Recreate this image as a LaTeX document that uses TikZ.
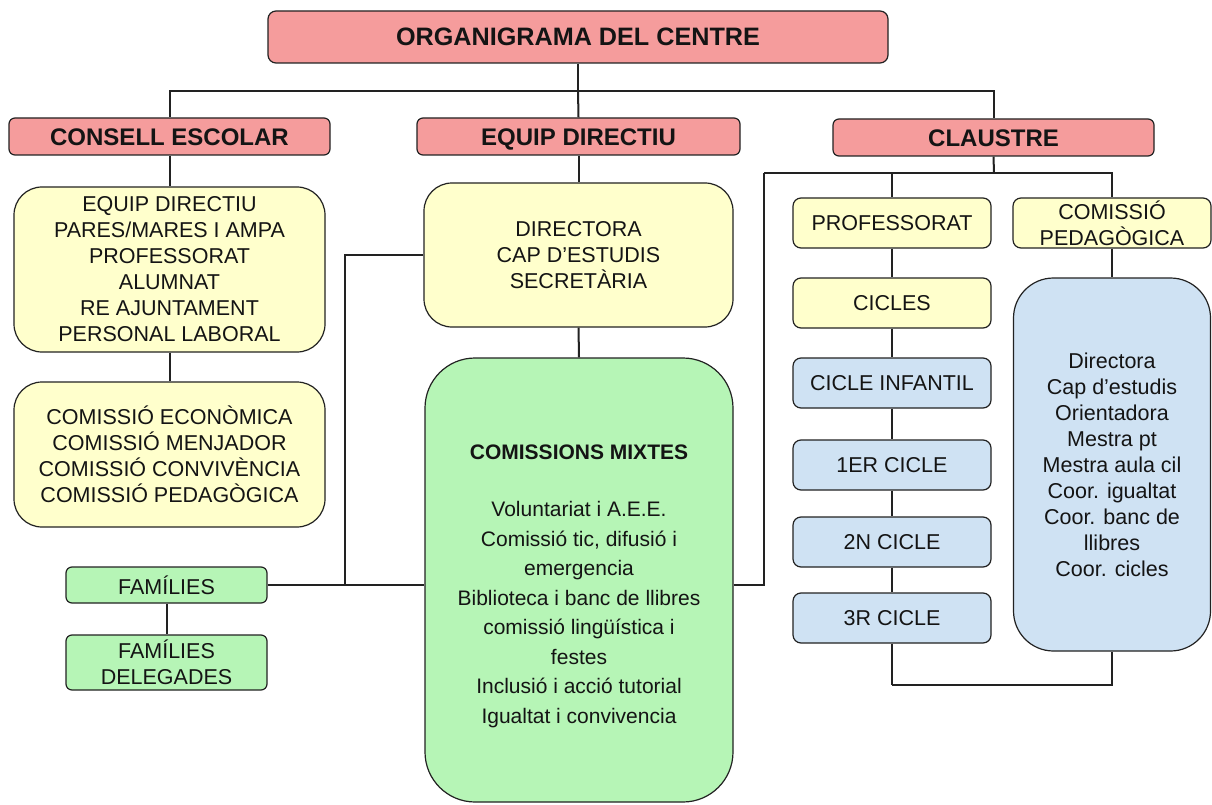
\documentclass[tikz,border=0pt]{standalone}
\usepackage{fontspec}
\setmainfont{Liberation Sans}
\definecolor{pinkc}{HTML}{F59C9C}
\definecolor{yelc}{HTML}{FFFFCC}
\definecolor{grnc}{HTML}{B6F5B6}
\definecolor{bluc}{HTML}{CFE2F3}
\definecolor{inkc}{HTML}{222222}
\definecolor{txtc}{HTML}{141414}
\begin{document}
\begin{tikzpicture}[x=1pt,y=-1pt,
  box/.style={draw=inkc, line width=1.2pt, inner sep=0pt, align=center, text=txtc,
    font=\fontsize{21.5}{26}\selectfont},
  hdr/.style={box, fill=pinkc, rounded corners=6pt, text height=17.2pt, text depth=0pt,
    font=\bfseries\fontsize{24}{28}\selectfont},
  yelbox/.style={box, fill=yelc},
  grnbox/.style={box, fill=grnc},
  blubox/.style={box, fill=bluc},
  wire/.style={draw=inkc, line width=2pt}]
\fill[white] (0,0) rectangle (1212,805);
\useasboundingbox (0,0) rectangle (1212,805);

% headers
\node[hdr, minimum width=620pt, minimum height=52pt, rounded corners=8pt, text height=18pt,
  font=\bfseries\fontsize{25.2}{28}\selectfont] (title) at (578,37) {ORGANIGRAMA DEL CENTRE};
\node[hdr, minimum width=321pt, minimum height=37pt] (consell) at (169.5,136.5) {CONSELL ESCOLAR};
\node[hdr, minimum width=323pt, minimum height=37pt] (equip) at (578.5,136.5) {EQUIP DIRECTIU};
\node[hdr, minimum width=321pt, minimum height=37pt] (claustre) at (993.5,137.5) {CLAUSTRE};

% left column
\node[yelbox, rounded corners=28pt, minimum width=311pt, minimum height=165pt] (membres) at (169.5,269.5)
  {EQUIP DIRECTIU\\PARES/MARES I AMPA\\PROFESSORAT\\ALUMNAT\\RE AJUNTAMENT\\PERSONAL LABORAL};
\node[yelbox, rounded corners=28pt, minimum width=311pt, minimum height=145pt] (comissions) at (169.5,454.5)
  {COMISSIÓ ECONÒMICA\\COMISSIÓ MENJADOR\\COMISSIÓ CONVIVÈNCIA\\COMISSIÓ PEDAGÒGICA};
\node[grnbox, rounded corners=6pt, minimum width=201pt, minimum height=36pt] (fam) at (166.5,585) {FAMÍLIES};
\node[grnbox, rounded corners=6pt, minimum width=201pt, minimum height=55pt] (famdel) at (166.5,662.5) {FAMÍLIES\\DELEGADES};

% middle column
\node[yelbox, rounded corners=28pt, minimum width=309pt, minimum height=144pt] (direccio) at (578.5,255)
  {DIRECTORA\\CAP D’ESTUDIS\\SECRETÀRIA};
\node[grnbox, rounded corners=50pt, minimum width=308pt, minimum height=444pt,
  font=\fontsize{21}{29.5}\selectfont] (mixtes) at (579,580)
  {\rule{0pt}{27pt}\textbf{COMISSIONS MIXTES}\\[28pt]Voluntariat i A.E.E.\\Comissió tic, difusió i\\emergencia\\Biblioteca i banc de llibres\\comissió lingüística i\\festes\\Inclusió i acció tutorial\\Igualtat i convivencia};

% right column
\node[yelbox, rounded corners=8pt, minimum width=198pt, minimum height=50pt] (prof) at (892,223) {PROFESSORAT};
\node[yelbox, rounded corners=8pt, minimum width=198pt, minimum height=50pt] (cicles) at (892,303) {CICLES};
\node[blubox, rounded corners=8pt, minimum width=198pt, minimum height=50pt] (inf) at (892,383) {CICLE INFANTIL};
\node[blubox, rounded corners=8pt, minimum width=198pt, minimum height=50pt] (c1) at (892,465) {1ER CICLE};
\node[blubox, rounded corners=8pt, minimum width=198pt, minimum height=50pt] (c2) at (892,542) {2N CICLE};
\node[blubox, rounded corners=8pt, minimum width=198pt, minimum height=50pt] (c3) at (892,618) {3R CICLE};
\node[yelbox, rounded corners=8pt, minimum width=198pt, minimum height=50pt] (comped) at (1112,223) {COMISSIÓ\\PEDAGÒGICA};
\node[blubox, rounded corners=40pt, minimum width=197pt, minimum height=373pt] (pedmembres) at (1112,464.5)
  {Directora\\Cap d’estudis\\Orientadora\\Mestra pt\\Mestra aula cil\\Coor. igualtat\\Coor. banc de\\llibres\\Coor. cicles};

% junction points
\coordinate (topbus) at (578,91);
\coordinate (clbus) at (994,173);
\coordinate (clleft) at (764,173);
\coordinate (famjoin) at (345,585);
\coordinate (botbus) at (892,685);

% connectors
\draw[wire] (title.south) -- (topbus);
\draw[wire] (topbus) -| (consell.north);
\draw[wire] (topbus) -| (claustre.north);
\draw[wire] (topbus) -- (equip.north);
\draw[wire] (consell.south) -- (membres.north);
\draw[wire] (membres.south) -- (comissions.north);
\draw[wire] (fam.south) -- (famdel.north);
\draw[wire] (equip.south) -- (direccio.north);
\draw[wire] (direccio.south) -- (mixtes.north);
\draw[wire] (direccio.west) -| (famjoin);
\draw[wire] (fam.east) -- (fam.east -| mixtes.west);
\draw[wire] (fam.east -| mixtes.east) -| (clleft);
\draw[wire] (claustre.south) -- (clbus);
\draw[wire] (clleft) -- (clbus);
\draw[wire] (clbus) -| (prof.north);
\draw[wire] (clbus) -| (comped.north);
\draw[wire] (prof.south) -- (cicles.north);
\draw[wire] (cicles.south) -- (inf.north);
\draw[wire] (inf.south) -- (c1.north);
\draw[wire] (c1.south) -- (c2.north);
\draw[wire] (c2.south) -- (c3.north);
\draw[wire] (comped.south) -- (pedmembres.north);
\draw[wire] (c3.south) -- (botbus);
\draw[wire] (botbus) -| (pedmembres.south);
\end{tikzpicture}
\end{document}
